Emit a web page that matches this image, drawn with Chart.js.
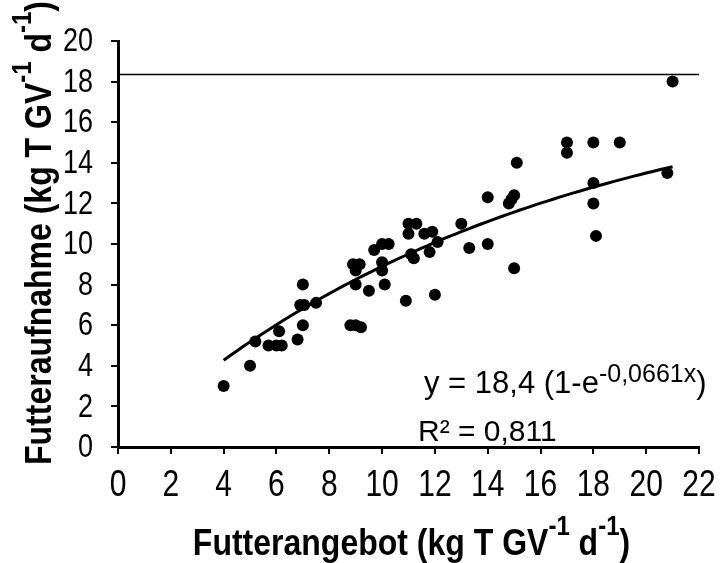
<!DOCTYPE html>
<html>
<head>
<meta charset="utf-8">
<script src="https://cdn.jsdelivr.net/npm/chart.js@4.4.0/dist/chart.umd.min.js"></script>
<style>
  html, body { margin: 0; padding: 0; background: #fff; }
  #wrap { width: 720px; height: 563px; }
</style>
</head>
<body>
<div id="wrap"><canvas id="mycanvas"></canvas></div>
<script>
// Futterangebot (x) gegen Futteraufnahme (y), jeweils kg T GV-1 d-1
var angebot  = [4, 5, 5.2, 5.7, 6, 6.2, 6.1, 6.8, 7, 6.9, 7.05, 7, 7.5,
                8.8, 9, 9.2, 8.9, 9.15, 9, 9, 9.5, 9.7, 10, 10.25, 10, 10, 10.1,
                10.9, 11, 11.3, 11, 11.1, 11.2, 11.6, 11.9, 11.8, 12.1, 12,
                13, 13.3, 14, 14, 14.8, 14.9, 15, 15.1, 15,
                17, 17, 18, 19, 18, 18, 18.1, 20.8, 21];
var aufnahme = [3, 4, 5.2, 5, 5, 5, 5.7, 5.3, 8, 7, 7, 6, 7.1,
                6, 6, 5.9, 9, 9, 8.7, 8, 7.7, 9.7, 10, 10, 9.1, 8.7, 8,
                7.2, 11, 11, 10.5, 9.5, 9.3, 10.5, 10.6, 9.6, 10.1, 7.5,
                11, 9.8, 12.3, 10, 12, 12.2, 12.4, 14, 8.8,
                15, 14.5, 15, 15, 13, 12, 10.4, 13.5, 18];

// Regression y = a (1 - e^(-k x)), gezeichnet von x = 4 bis 21
var fitA = 18.4;
var fitK = 0.0661;
var fitRange = [4, 21];
var maxLinie = 18.35;   // waagerechte Linie oben

var xMin = 0, xMax = 22, xStep = 2;
var yMin = 0, yMax = 20, yStep = 2;

var titelX = [['Futterangebot (kg T GV', 0], ['-1', 1], [' d', 0], ['-1', 1], [')', 0]];
var titelY = [['Futteraufnahme (kg T GV', 0], ['-1', 1], [' d', 0], ['-1', 1], [')', 0]];
var gleichung = [['y = 18,4 (1-e', 0], ['-0,0661x', 1], [')', 0]];
var bestimmtheit = 'R\u00B2 = 0,811';

var FONT = "'Liberation Sans', Arial, sans-serif";

var punkte = [];
for (var i = 0; i < angebot.length; i++) {
  punkte.push({ x: angebot[i], y: aufnahme[i] });
}

var kurve = [];
for (var x = fitRange[0]; x <= fitRange[1] + 1e-9; x += 0.25) {
  kurve.push({ x: x, y: fitA * (1 - Math.exp(-fitK * x)) });
}

// text with raised parts (exponents)
function richText(ctx, parts, size, supSize, raise, bold) {
  var w = 0, i;
  var widths = [];
  for (i = 0; i < parts.length; i++) {
    ctx.font = (bold ? 'bold ' : '') + (parts[i][1] ? supSize : size) + 'px ' + FONT;
    widths.push(ctx.measureText(parts[i][0]).width);
    w += widths[i];
  }
  return {
    width: w,
    draw: function (x0, y0) {
      var cx = x0;
      for (var j = 0; j < parts.length; j++) {
        ctx.font = (bold ? 'bold ' : '') + (parts[j][1] ? supSize : size) + 'px ' + FONT;
        ctx.fillText(parts[j][0], cx, parts[j][1] ? y0 - raise : y0);
        cx += widths[j];
      }
    }
  };
}

var beschriftung = {
  id: 'beschriftung',
  afterDraw: function (chart) {
    var ctx = chart.ctx;
    var xs = chart.scales.x, ys = chart.scales.y;
    var area = chart.chartArea;
    ctx.save();
    ctx.fillStyle = '#000';
    ctx.textBaseline = 'middle';

    // y tick labels
    ctx.font = '27px ' + FONT;
    ctx.textAlign = 'right';
    ys.ticks.forEach(function (t) {
      ctx.save();
      ctx.translate(area.left - 25, ys.getPixelForValue(t.value));
      ctx.scale(1, 1.2);
      ctx.fillText(String(t.value), 0, 1);
      ctx.restore();
    });

    // x tick labels
    ctx.font = '30px ' + FONT;
    ctx.textAlign = 'center';
    xs.ticks.forEach(function (t) {
      ctx.save();
      ctx.translate(xs.getPixelForValue(t.value), area.bottom + 37);
      ctx.scale(1, 1.25);
      ctx.fillText(String(t.value), 0, 1);
      ctx.restore();
    });

    ctx.textAlign = 'left';
    ctx.textBaseline = 'alphabetic';

    // x axis title
    var tx = richText(ctx, titelX, 32, 24, 17, true);
    ctx.save();
    ctx.translate((area.left + area.right) / 2 + 3, 555);
    ctx.scale(1, 1.15);
    tx.draw(-tx.width / 2, 0);
    ctx.restore();

    // y axis title
    var ty = richText(ctx, titelY, 32, 24, 17, true);
    ctx.save();
    ctx.translate(51, 233);
    ctx.rotate(-Math.PI / 2);
    ctx.scale(1, 1.15);
    ty.draw(-ty.width / 2, 0);
    ctx.restore();

    // equation and R²
    var eq = richText(ctx, gleichung, 31, 25, 11, false);
    eq.draw(424, 393);
    ctx.font = '30px ' + FONT;
    ctx.fillText(bestimmtheit, 418, 441);

    ctx.restore();
  }
};

var ctx = document.getElementById('mycanvas');

var chart = new Chart(ctx, {
  type: 'scatter',
  data: {
    datasets: [
      {
        label: 'Regression',
        data: kurve,
        showLine: true,
        borderColor: '#000',
        borderWidth: 3,
        pointRadius: 0,
        fill: false,
        tension: 0
      },
      {
        label: 'Maximum',
        data: [{ x: xMin, y: maxLinie }, { x: xMax, y: maxLinie }],
        showLine: true,
        borderColor: '#000',
        borderWidth: 1.5,
        pointRadius: 0,
        fill: false
      },
      {
        label: 'Messwerte',
        data: punkte,
        backgroundColor: '#000',
        borderColor: '#000',
        pointRadius: 6,
        pointBorderWidth: 0
      }
    ]
  },
  options: {
    responsive: true,
    maintainAspectRatio: false,
    animation: false,
    events: [],
    layout: { padding: { top: 41, right: 21, left: 0, bottom: 0 } },
    plugins: {
      legend: { display: false },
      tooltip: { enabled: false }
    },
    scales: {
      x: {
        type: 'linear',
        min: xMin,
        max: xMax,
        ticks: { display: false, stepSize: xStep },
        grid: { display: true, drawOnChartArea: false, drawTicks: true, tickLength: 7, color: '#000', lineWidth: 2 },
        border: { display: true, color: '#000', width: 3 },
        afterFit: function (scale) { scale.height = 116; }
      },
      y: {
        type: 'linear',
        min: yMin,
        max: yMax,
        ticks: { display: false, stepSize: yStep },
        grid: { display: true, drawOnChartArea: false, drawTicks: true, tickLength: 7, color: '#000', lineWidth: 2 },
        border: { display: true, color: '#000', width: 3 },
        afterFit: function (scale) { scale.width = 118; }
      }
    }
  },
  plugins: [beschriftung]
});
</script>
</body>
</html>
